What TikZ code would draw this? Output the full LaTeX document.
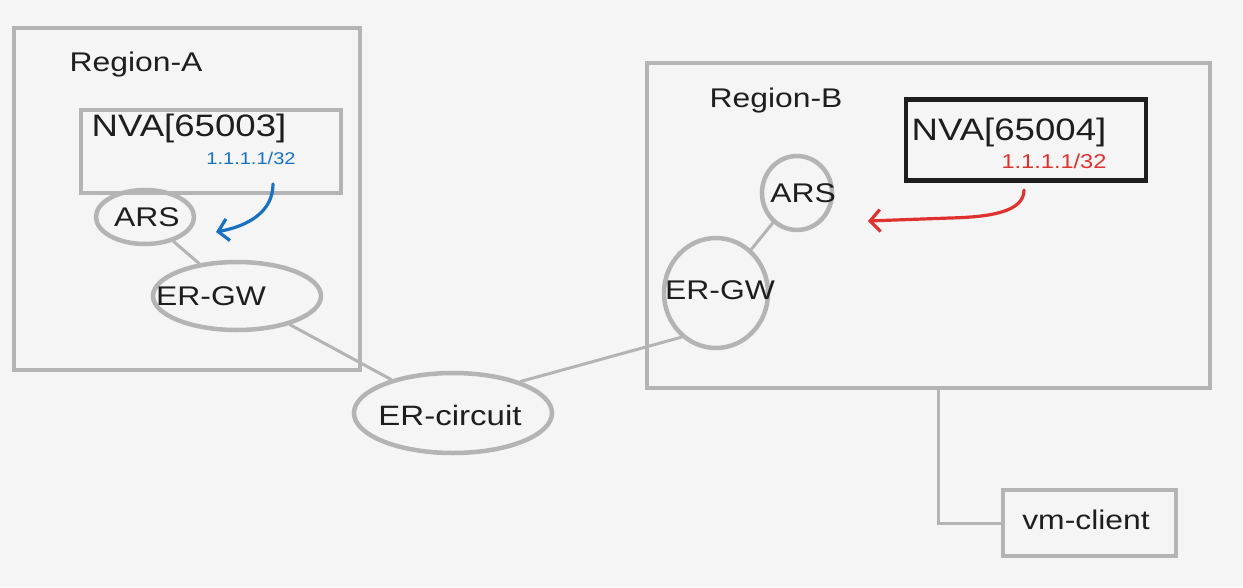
\documentclass[tikz,border=0pt]{standalone}
\usepackage{fontspec}
\setmainfont[FakeStretch=1.18]{Liberation Sans}
\usetikzlibrary{shapes.geometric,arrows.meta}
\definecolor{bg}{HTML}{F5F5F5}
\definecolor{lineg}{HTML}{B4B4B4}
\definecolor{ink}{HTML}{1E1E1E}
\definecolor{ablue}{HTML}{1971C2}
\definecolor{ared}{HTML}{E03131}
\begin{document}
\begin{tikzpicture}[x=1pt,y=-1pt,
  box/.style={draw=lineg, line width=4.5pt, inner sep=0pt},
  darkbox/.style={draw=ink, line width=4.5pt, inner sep=0pt},
  ell/.style={ellipse, draw=lineg, line width=4.5pt, inner sep=0pt},
  txt/.style={font=\fontsize{27}{30}\selectfont, text=ink, inner sep=0pt},
  big/.style={font=\fontsize{31}{33}\selectfont},
  small/.style={font=\fontsize{17}{20}\selectfont, inner sep=0pt},
  conn/.style={draw=lineg, line width=3pt, line cap=round},
  arr/.style={line width=3.2pt, line cap=round, -{Straight Barb[length=10pt,width=22pt,line width=3.2pt]}}
]
\fill[bg] (0,0) rectangle (1243,587);
\useasboundingbox (0,0) rectangle (1243,587);

% Region A
\node[box, minimum width=346pt, minimum height=342pt] (regA) at (187,199) {};
\node[txt] (regAt) at (136,65) {Region-A};
\node[box, minimum width=260pt, minimum height=83pt] (nvaA) at (211,151.5) {};
\node[txt, big] (nvaAt) at (189,128) {NVA[65003]};
\node[small, text=ablue] (pfxA) at (251,158) {1.1.1.1/32};
\node[ell, minimum width=98pt, minimum height=54pt] (arsA) at (145,217) {};
\node[txt] (arsAt) at (147,217) {ARS};
\node[ell, minimum width=168pt, minimum height=68pt] (ergwA) at (237,296) {};
\node[txt] (ergwAt) at (211,296) {ER-GW};

% ER circuit
\node[ell, minimum width=198pt, minimum height=80pt] (erc) at (453,413) {};
\node[txt, font=\fontsize{28}{30}\selectfont] (erct) at (450,415) {ER-circuit};

% Region B
\node[box, minimum width=563pt, minimum height=325pt] (regB) at (928.5,225.5) {};
\node[txt] (regBt) at (776,101) {Region-B};
\node[darkbox, minimum width=240pt, minimum height=81pt] (nvaB) at (1026,140) {};
\node[txt, big] (nvaBt) at (1009,132) {NVA[65004]};
\node[small, text=ared, font=\fontsize{20}{22}\selectfont] (pfxB) at (1054,161) {1.1.1.1/32};
\node[ell, minimum width=70pt, minimum height=74pt] (arsB) at (797,193) {};
\node[txt] (arsBt) at (803,193) {ARS};
\node[ell, minimum width=104pt, minimum height=110pt] (ergwB) at (716,293) {};
\node[txt] (ergwBt) at (720,290) {ER-GW};

% vm-client
\node[box, minimum width=173pt, minimum height=66pt] (vm) at (1089.5,523) {};
\node[txt] (vmt) at (1086,520) {vm-client};

% connectors
\draw[conn] (arsA) -- (ergwA);
\draw[conn] (ergwA) -- (erc);
\draw[conn] (erc.25) -- (ergwB.232);
\draw[conn] (arsB) -- (ergwB);
\coordinate (tap) at (938,388);
\draw[conn] (tap) |- (vm.west);

% route arrows
\coordinate (bA0) at (273,184);
\coordinate (bA1) at (216,232);
\draw[arr, ablue] (bA0) .. controls (273,212) and (248,226) .. (bA1);
\coordinate (rB0) at (1024,190);
\coordinate (rB1) at (868,221);
\draw[arr, ared] (rB0) .. controls (1024,212) and (990,217) .. (950,218) -- (rB1);
\end{tikzpicture}
\end{document}
